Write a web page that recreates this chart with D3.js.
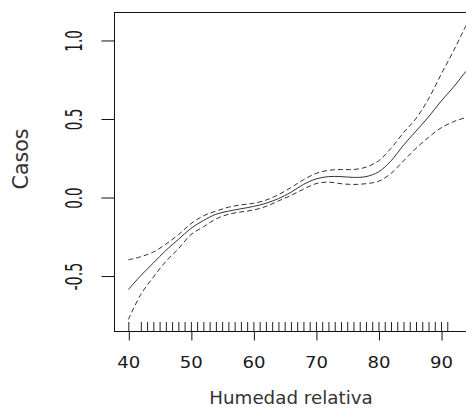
<!DOCTYPE html>
<html>
<head>
<meta charset="utf-8">
<script src="https://cdn.jsdelivr.net/npm/d3@7"></script>
<style>
  html, body { margin: 0; padding: 0; background: #fff; }
  svg { display: block; }
</style>
</head>
<body>
<svg id="chart" width="466" height="409"></svg>
<script>
// Smooth term of relative humidity with its confidence band
const humedad  = [40, 42, 44, 46, 48, 50, 52, 54, 56, 58, 60, 62, 64, 66, 68, 70, 72, 74, 76, 78, 80, 82, 84, 86, 88, 90, 92, 94, 95];
const ajuste   = [-0.59, -0.50, -0.42, -0.34, -0.27, -0.20, -0.15, -0.11, -0.09, -0.075, -0.06, -0.04, -0.01, 0.03, 0.08, 0.115, 0.13, 0.13, 0.125, 0.13, 0.16, 0.23, 0.33, 0.42, 0.51, 0.61, 0.70, 0.80, 0.84];
const superior = [-0.40, -0.38, -0.35, -0.30, -0.24, -0.17, -0.12, -0.09, -0.065, -0.05, -0.04, -0.02, 0.015, 0.06, 0.11, 0.15, 0.17, 0.175, 0.175, 0.19, 0.23, 0.31, 0.41, 0.50, 0.625, 0.78, 0.93, 1.09, 1.15];
const inferior = [-0.78, -0.62, -0.51, -0.41, -0.33, -0.24, -0.19, -0.14, -0.11, -0.095, -0.083, -0.06, -0.025, 0.01, 0.05, 0.085, 0.095, 0.085, 0.08, 0.085, 0.10, 0.15, 0.23, 0.31, 0.38, 0.44, 0.48, 0.505, 0.51];

// Observed humidity values shown as a rug
const rugValues = [40, 42, 43, 44, 45, 46, 47, 48, 49, 50, 51, 52, 53, 54, 55, 56, 57, 58, 59, 60,
                   61, 62, 63, 64, 65, 66, 67, 68, 69, 70, 71, 72, 73, 74, 75, 76, 77, 78, 79, 80,
                   81, 82, 83, 84, 85, 86, 87, 88, 89, 90, 91];

const xTicks = [40, 50, 60, 70, 80, 90];
const yTicks = [-0.5, 0.0, 0.5, 1.0];
const yTickLabels = ["-0.5", "0.0", "0.5", "1.0"];
const xTitle = "Humedad relativa";
const yTitle = "Casos";

const svg = d3.select("#chart");

const panelLeft = 114, panelTop = 12, panelBottom = 331;
const x = d3.scaleLinear().domain([37.71, 97.2]).range([panelLeft, panelLeft + (97.2 - 37.71) * 6.254]);
const y = d3.scaleLinear().domain([-0.853, 1.178]).range([panelBottom, panelTop]);

svg.append("defs").append("clipPath").attr("id", "plotClip")
  .append("rect")
  .attr("x", x.range()[0]).attr("y", panelTop)
  .attr("width", x.range()[1] - x.range()[0]).attr("height", panelBottom - panelTop);

const plot = svg.append("g").attr("clip-path", "url(#plotClip)");

const lineOf = vals => d3.line()
  .x((d, i) => x(humedad[i]))
  .y(d => y(d))
  .curve(d3.curveCatmullRom.alpha(0.5))(vals);

plot.append("path").attr("d", lineOf(superior))
  .attr("fill", "none").attr("stroke", "#333").attr("stroke-width", 1)
  .attr("stroke-dasharray", "5,3");
plot.append("path").attr("d", lineOf(inferior))
  .attr("fill", "none").attr("stroke", "#333").attr("stroke-width", 1)
  .attr("stroke-dasharray", "5,3");
plot.append("path").attr("d", lineOf(ajuste))
  .attr("fill", "none").attr("stroke", "#333").attr("stroke-width", 1);

// Rug along the bottom of the panel
plot.append("g").selectAll("line").data(rugValues).join("line")
  .attr("x1", d => x(d) + 0.5).attr("x2", d => x(d) + 0.5)
  .attr("y1", panelBottom).attr("y2", panelBottom - 9)
  .attr("stroke", "#222").attr("stroke-width", 1);

// Panel frame
svg.append("rect")
  .attr("x", x.range()[0] + 0.5).attr("y", panelTop + 0.5)
  .attr("width", x.range()[1] - x.range()[0]).attr("height", panelBottom - panelTop)
  .attr("fill", "none").attr("stroke", "#111").attr("stroke-width", 1);

// Bottom axis
const xAxis = svg.append("g").attr("transform", `translate(0,${panelBottom + 0.5})`)
  .call(d3.axisBottom(x).tickValues(xTicks).tickSize(9).tickFormat(d3.format("d")));
xAxis.select(".domain").remove();
xAxis.selectAll(".tick line").attr("stroke", "#111").attr("transform", "translate(0.5,0)");
xAxis.selectAll(".tick text")
  .attr("y", 36).attr("dy", 0)
  .attr("font-family", "'DejaVu Sans', Verdana, sans-serif")
  .attr("font-size", 16.5).attr("fill", "#1a1a1a")
  .attr("textLength", 23).attr("lengthAdjust", "spacingAndGlyphs");

// Left axis with labels running along it
const yAxis = svg.append("g").attr("transform", `translate(${panelLeft + 0.5},0)`)
  .call(d3.axisLeft(y).tickValues(yTicks).tickSize(13)
    .tickFormat((d, i) => yTickLabels[i]));
yAxis.select(".domain").remove();
yAxis.selectAll(".tick line").attr("stroke", "#111").attr("transform", "translate(0,0.5)");
yAxis.selectAll(".tick text")
  .attr("x", 0).attr("y", 0).attr("dy", 0)
  .attr("transform", "translate(-33,0.5) rotate(-90)")
  .attr("text-anchor", "middle")
  .attr("font-family", "'DejaVu Sans', Verdana, sans-serif")
  .attr("font-size", 22.5).attr("fill", "#1a1a1a")
  .attr("textLength", d => d < 0 ? 28 : 21.5)
  .attr("lengthAdjust", "spacingAndGlyphs");

// Axis titles
svg.append("text")
  .attr("x", 291).attr("y", 404)
  .attr("text-anchor", "middle")
  .attr("font-family", "'DejaVu Sans', Verdana, sans-serif")
  .attr("font-size", 18.3).attr("fill", "#333")
  .text(xTitle);

svg.append("text")
  .attr("transform", "translate(28,159) rotate(-90)")
  .attr("text-anchor", "middle")
  .attr("font-family", "'DejaVu Sans', Verdana, sans-serif")
  .attr("font-size", 20.5).attr("fill", "#333")
  .text(yTitle);
</script>
</body>
</html>
